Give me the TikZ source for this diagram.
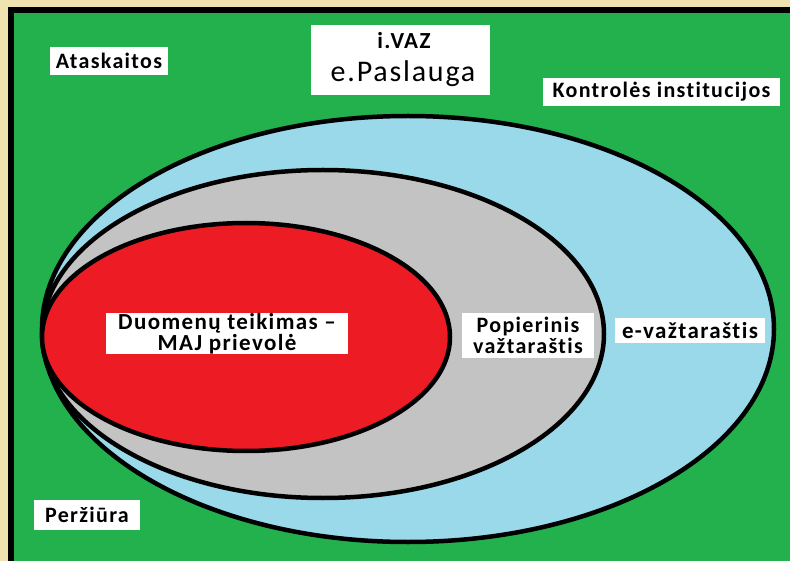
\documentclass[tikz,border=0pt]{standalone}
\usepackage{fontspec}
\setmainfont[LetterSpace=6, Ligatures=NoCommon]{Carlito}
\definecolor{paintgreen}{HTML}{22B14C}
\definecolor{paintblue}{HTML}{99D9EA}
\definecolor{paintgray}{HTML}{C3C3C3}
\definecolor{paintred}{HTML}{ED1C24}
\definecolor{paintbeige}{HTML}{EFE4B0}
\tikzset{
  ring/.style={draw=black, line width=4.5pt},
  tag/.style={fill=white, inner sep=0pt, align=center, font=\fontsize{22}{20}\selectfont\bfseries},
  word/.style={inner sep=0pt, anchor=base},
}
\begin{document}
\begin{tikzpicture}[x=1pt,y=-1pt]
\useasboundingbox (0,0) rectangle (790,561);
\fill[paintbeige] (0,0) rectangle (790,561);
\fill[black] (8,7) rectangle (790,561);
\fill[paintgreen] (14,13) rectangle (790,561);
\filldraw[ring, fill=paintblue] (408,329) ellipse [x radius=366, y radius=213];
\filldraw[ring, fill=paintgray] (323,334) ellipse [x radius=281, y radius=164];
\filldraw[ring, fill=paintred] (246,337) ellipse [x radius=204, y radius=114];
\node[tag, minimum width=118, minimum height=28] (atask) at (109,61) {Ataskaitos};
\node[tag, minimum width=179, minimum height=70] (ivaz) at (400.5,60) {};
\node[word, font=\fontsize{23}{23}\selectfont\bfseries] (ivazTop) at (404,49) {i.VAZ};
\node[word, font=\fontsize{30}{30}\selectfont] (ivazBot) at (403,82) {e.Paslauga};
\node[tag, minimum width=237, minimum height=28] (kontr) at (661.5,92) {Kontrolės institucijos};
\node[tag, minimum width=106, minimum height=30] (perz) at (87,515) {Peržiūra};
\node[tag, minimum width=242, minimum height=39, font=\fontsize{23}{18}\selectfont\bfseries] (duom) at (227,333.5) {Duomenų teikimas –\\MAJ prievolė};
\node[tag, minimum width=132, minimum height=45, font=\fontsize{22}{21}\selectfont\bfseries] (popier) at (528,335.5) {Popierinis\\važtaraštis};
\node[tag, minimum width=150, minimum height=25, font=\fontsize{23}{20}\selectfont\bfseries] (evaz) at (690,330.5) {e-važtaraštis};
\end{tikzpicture}
\end{document}
